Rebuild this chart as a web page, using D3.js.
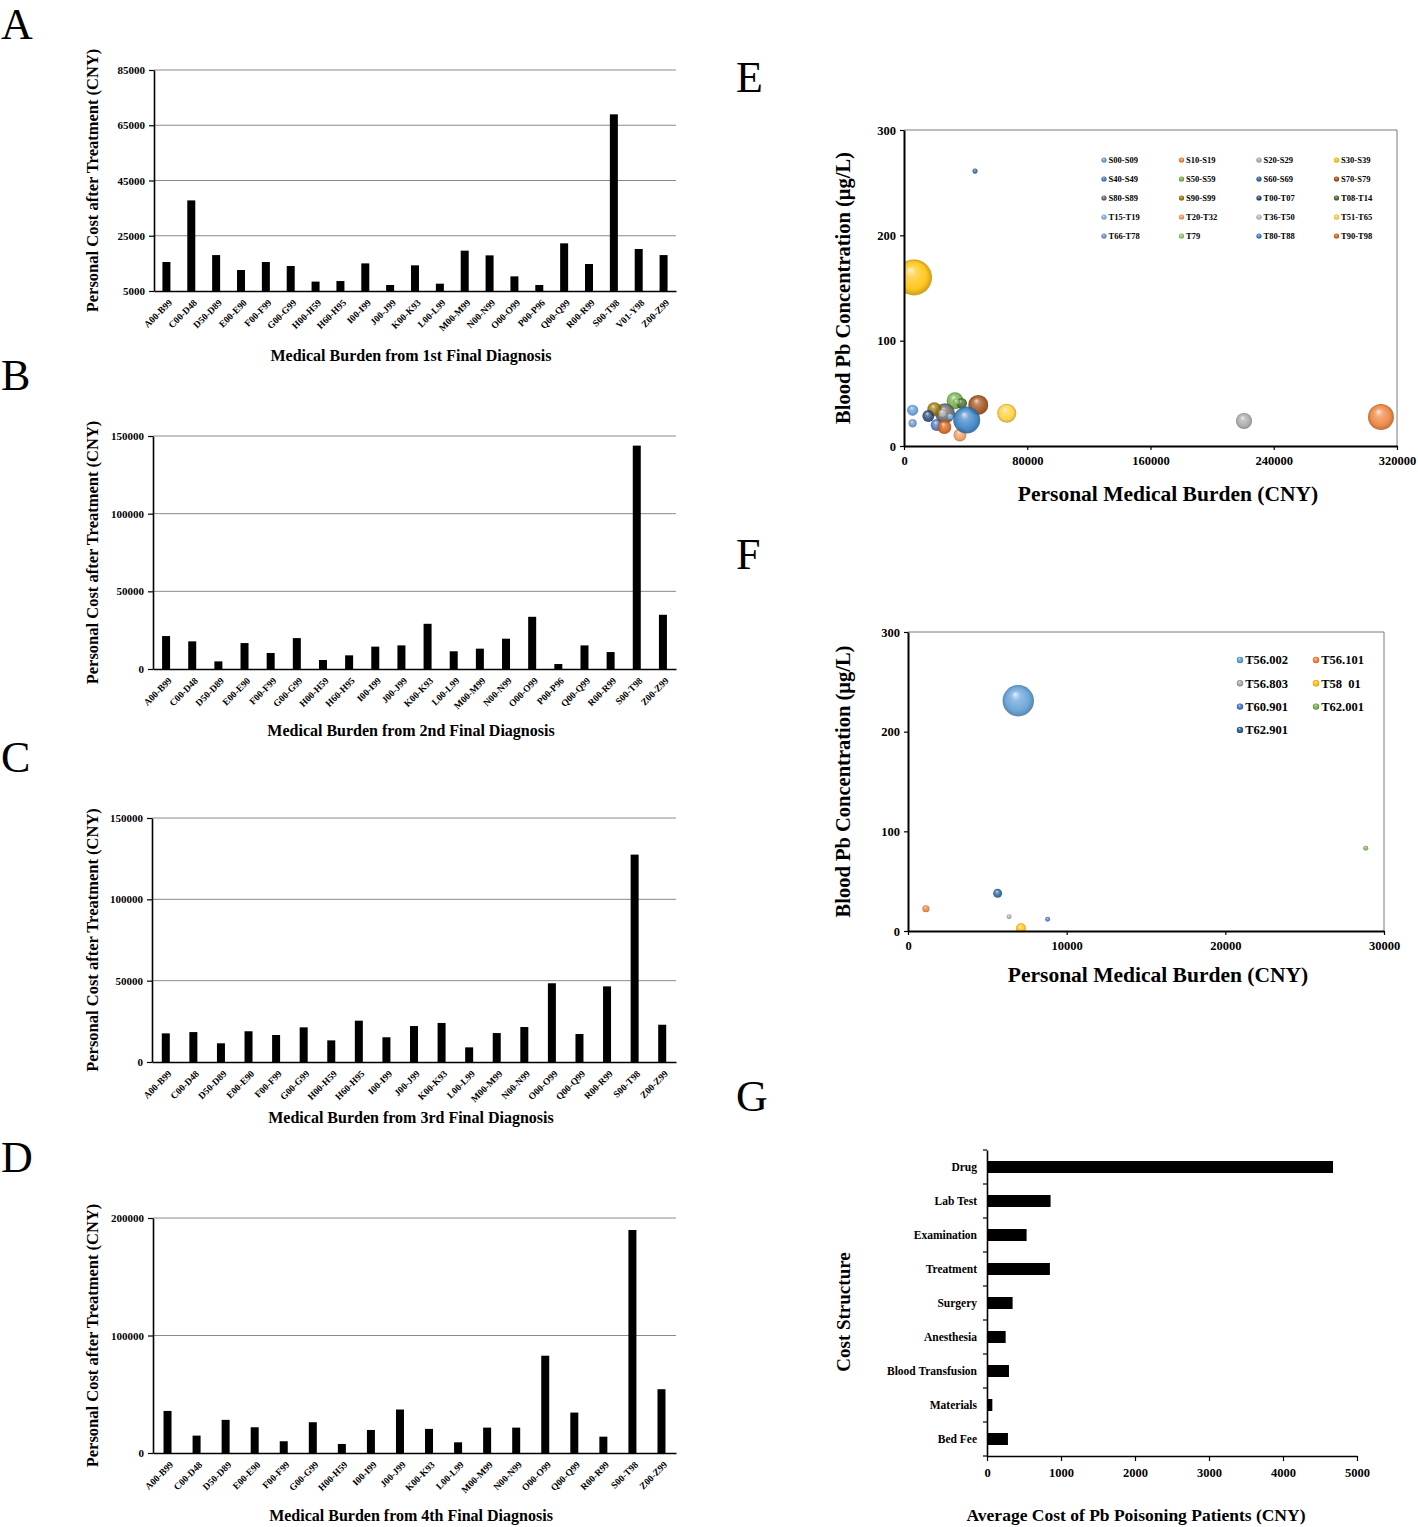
<!DOCTYPE html>
<html><head><meta charset="utf-8">
<script src="https://cdn.jsdelivr.net/npm/d3@7"></script>
<style>
body{margin:0;background:#fff}
svg{display:block}
text{font-family:"Liberation Serif","Times New Roman",serif;}
</style>
</head><body>
<svg id="chart" width="1418" height="1527"></svg>
<script>
// ---------- DATA ----------
const catsA = ["A00-B99","C00-D48","D50-D89","E00-E90","F00-F99","G00-G99","H00-H59","H60-H95","I00-I99","J00-J99","K00-K93","L00-L99","M00-M99","N00-N99","O00-O99","P00-P96","Q00-Q99","R00-R99","S00-T98","V01-Y98","Z00-Z99"];
const valsA = [15500,37800,18000,12600,15500,14050,8400,8600,15000,7170,14290,7650,19600,17900,10300,7170,22250,14770,68950,20200,18000];
const yTicksA = [5000,25000,45000,65000,85000];

const catsB = ["A00-B99","C00-D48","D50-D89","E00-E90","F00-F99","G00-G99","H00-H59","H60-H95","I00-I99","J00-J99","K00-K93","L00-L99","M00-M99","N00-N99","O00-O99","P00-P96","Q00-Q99","R00-R99","S00-T98","Z00-Z99"];
const valsB = [21200,17800,4900,16700,10300,19900,5800,8800,14400,15200,29100,11400,13100,19500,33600,3200,15200,10900,143800,34900];
const yTicksB = [0,50000,100000,150000];

const catsC = ["A00-B99","C00-D48","D50-D89","E00-E90","F00-F99","G00-G99","H00-H59","H60-H95","I00-I99","J00-J99","K00-K93","L00-L99","M00-M99","N00-N99","O00-O99","Q00-Q99","R00-R99","S00-T98","Z00-Z99"];
const valsC = [17600,18400,11500,18900,16600,21300,13300,25400,15200,22100,24000,9000,17800,21500,48400,17200,46500,127500,22900];
const yTicksC = [0,50000,100000,150000];

const catsD = ["A00-B99","C00-D48","D50-D89","E00-E90","F00-F99","G00-G99","H00-H59","I00-I99","J00-J99","K00-K93","L00-L99","M00-M99","N00-N99","O00-O99","Q00-Q99","R00-R99","S00-T98","Z00-Z99"];
const valsD = [35800,14800,28200,21900,10000,26200,7700,19600,37000,20500,9100,21600,21600,82800,34400,13900,189800,54300];
const yTicksD = [0,100000,200000];

const seriesE = ["S00-S09","S10-S19","S20-S29","S30-S39","S40-S49","S50-S59","S60-S69","S70-S79","S80-S89","S90-S99","T00-T07","T08-T14","T15-T19","T20-T32","T36-T50","T51-T65","T66-T78","T79","T80-T88","T90-T98"];
const burdenE = [5600,309600,220700,6500,21200,33100,46100,48200,26600,19700,15800,37400,30000,36300,25000,66700,5600,34000,40700,26200];
const leadE   = [34,27.5,23.7,160,20,43,261,39,31,35,28.5,40.5,28,10.5,31,31,21.5,42,24.7,18];
const sizeE   = [9.3,52,20,100,11,22,2,31,31,15,11,9,3,13,5,28,5,3,56,15];
const xTicksE = [0,80000,160000,240000,320000];
const yTicksE = [0,100,200,300];

const seriesF = ["T56.002","T56.101","T56.803","T58  01","T60.901","T62.001","T62.901"];
const burdenF = [6950,1130,6370,7120,8800,28850,5650];
const leadF   = [231,22.4,14.3,2.7,11.7,83,37.8];
const sizeF   = [100,5,2.5,10,2.5,2.5,8.2];
const xTicksF = [0,10000,20000,30000];
const yTicksF = [0,100,200,300];

const catsG = ["Drug","Lab Test","Examination","Treatment","Surgery","Anesthesia","Blood Transfusion","Materials","Bed Fee"];
const valsG = [4676,859,535,850,346,252,297,72,283];
const xTicksG = [0,1000,2000,3000,4000,5000];

// ---------- STYLE ----------
const paletteE = ["#5B9BD5","#ED7D31","#A5A5A5","#FFC000","#4472C4","#70AD47","#255E91","#9E480E","#636363","#997300","#264478","#43682B","#7CAFDD","#F1975A","#B7B7B7","#FFCD33","#698ED0","#8CC168","#327DC2","#D26012"];
const paletteF = ["#5B9BD5","#ED7D31","#A5A5A5","#FFC000","#4472C4","#70AD47","#255E91"];
const SERIF = '"Liberation Serif","Times New Roman",serif';

const svg = d3.select("#chart");
svg.append("rect").attr("width",1418).attr("height",1527).attr("fill","#fff");
const defs = svg.append("defs");

function letter(t, x, y){
  svg.append("text").attr("x",x).attr("y",y).attr("font-size",44).attr("font-family",SERIF).text(t);
}
function styleAxis(a, fs){
  a.attr("font-family",SERIF);
  a.select(".domain").attr("stroke","#000").attr("stroke-width",1.6);
  a.selectAll(".tick line").attr("stroke","#000").attr("stroke-width",1.2);
  a.selectAll(".tick text").attr("font-size",fs).attr("font-weight","bold").attr("fill","#000");
}

// ---------- BAR PANELS A-D ----------
function barPanel(c){
  const g = svg.append("g");
  const x = d3.scaleBand().domain(c.cats).range([c.left,c.right]);
  const y = d3.scaleLinear().domain(c.domain).range([c.bottom,c.top]);
  g.selectAll("line.grid").data(c.ticks.filter(t=>t!==c.domain[0])).join("line")
    .attr("x1",c.left).attr("x2",c.right).attr("y1",d=>y(d)).attr("y2",d=>y(d))
    .attr("stroke","#8a8a8a").attr("stroke-width",1);
  g.selectAll("rect.bar").data(c.cats).join("rect")
    .attr("x",d=>x(d)+x.bandwidth()/2-4).attr("width",8)
    .attr("y",(d,i)=>y(c.vals[i])).attr("height",(d,i)=>c.bottom-y(c.vals[i]))
    .attr("fill","#000");
  const ya = g.append("g").attr("transform",`translate(${c.left},0)`)
    .call(d3.axisLeft(y).tickValues(c.ticks).tickSize(5).tickSizeOuter(0).tickPadding(4).tickFormat(d3.format("d")));
  styleAxis(ya, 11);
  const xa = g.append("g").attr("transform",`translate(0,${c.bottom})`)
    .call(d3.axisBottom(x).tickSize(0).tickSizeOuter(0));
  styleAxis(xa, 9.5);
  xa.selectAll(".tick text").attr("x",0).attr("y",0).attr("dy","0.35em")
    .attr("transform","translate(4,10) rotate(-45)").attr("text-anchor","end");
  g.append("text").attr("transform",`translate(92,${(c.top+c.bottom)/2}) rotate(-90)`)
    .attr("text-anchor","middle").attr("dy","0.35em").attr("font-size",16.5).attr("font-weight","bold")
    .attr("font-family",SERIF).text("Personal Cost after Treatment (CNY)");
  g.append("text").attr("x",411).attr("y",c.titleY).attr("text-anchor","middle")
    .attr("font-size",16).attr("font-weight","bold").attr("font-family",SERIF).text(c.title);
}

barPanel({cats:catsA, vals:valsA, left:154, right:676, top:70, bottom:291, domain:[5000,85000], ticks:yTicksA, title:"Medical Burden from 1st Final Diagnosis", titleY:361});
barPanel({cats:catsB, vals:valsB, left:153, right:676, top:436, bottom:669, domain:[0,150000], ticks:yTicksB, title:"Medical Burden from 2nd Final Diagnosis", titleY:736});
barPanel({cats:catsC, vals:valsC, left:152, right:676, top:818, bottom:1062, domain:[0,150000], ticks:yTicksC, title:"Medical Burden from 3rd Final Diagnosis", titleY:1123});
barPanel({cats:catsD, vals:valsD, left:153, right:676, top:1218, bottom:1453, domain:[0,200000], ticks:yTicksD, title:"Medical Burden from 4th Final Diagnosis", titleY:1521});

letter("A",1,39); letter("B",1,390); letter("C",1,772); letter("D",1,1172);
letter("E",736,92); letter("F",736,569); letter("G",736,1111);

// ---------- BUBBLE PANELS E, F ----------
function sphereGrad(color){
  const id = "sph"+color.replace("#","");
  if (defs.select("#"+id).empty()){
    const gr = defs.append("radialGradient").attr("id",id)
      .attr("cx","50%").attr("cy","50%").attr("r","50%").attr("fx","40%").attr("fy","28%");
    gr.append("stop").attr("offset","0%").attr("stop-color",d3.interpolateRgb(color,"#fff")(0.8));
    gr.append("stop").attr("offset","30%").attr("stop-color",d3.interpolateRgb(color,"#fff")(0.25));
    gr.append("stop").attr("offset","75%").attr("stop-color",color);
    gr.append("stop").attr("offset","100%").attr("stop-color",d3.color(color).darker(0.8).formatHex());
  }
  return "url(#"+id+")";
}

function bubblePanel(c){
  const g = svg.append("g");
  const x = d3.scaleLinear().domain(c.xDomain).range([c.left,c.right]);
  const y = d3.scaleLinear().domain(c.yDomain).range([c.bottom,c.top]);
  const r = d3.scaleSqrt().domain([0,100]).range([0,c.rMax]);
  const clipId = "clip"+c.id;
  defs.append("clipPath").attr("id",clipId).append("rect")
    .attr("x",c.left).attr("y",c.top).attr("width",c.right-c.left).attr("height",c.bottom-c.top);
  g.append("path").attr("d",`M${c.left},${c.top}H${c.right}V${c.bottom}`)
    .attr("fill","none").attr("stroke","#7a7a7a").attr("stroke-width",1);
  g.append("g").attr("clip-path",`url(#${clipId})`)
    .selectAll("circle").data(c.names).join("circle")
    .attr("cx",(d,i)=>x(c.xs[i])).attr("cy",(d,i)=>y(c.ys[i])).attr("r",(d,i)=>r(c.sizes[i]))
    .attr("fill",(d,i)=>sphereGrad(c.colors[i])).attr("opacity",0.88);
  const ya = g.append("g").attr("transform",`translate(${c.left},0)`)
    .call(d3.axisLeft(y).tickValues(c.yTicks).tickSize(4).tickSizeOuter(0).tickPadding(4));
  styleAxis(ya, 12.5);
  const xa = g.append("g").attr("transform",`translate(0,${c.bottom})`)
    .call(d3.axisBottom(x).tickValues(c.xTicks).tickSize(4).tickSizeOuter(0).tickPadding(6).tickFormat(d3.format("d")));
  styleAxis(xa, 12.5);
  xa.select(".domain").attr("stroke-width",2);
  ya.select(".domain").attr("stroke-width",2);
  g.append("text").attr("transform",`translate(843,${(c.top+c.bottom)/2}) rotate(-90)`)
    .attr("text-anchor","middle").attr("dy","0.35em").attr("font-size",20.5).attr("font-weight","bold")
    .attr("font-family",SERIF).text("Blood Pb Concentration (\u03bcg/L)");
  g.append("text").attr("x",c.titleX).attr("y",c.titleY).attr("text-anchor","middle")
    .attr("font-size",21.5).attr("font-weight","bold").attr("font-family",SERIF).text("Personal Medical Burden (CNY)");
  const lg = g.append("g").selectAll("g").data(c.names).join("g")
    .attr("transform",(d,i)=>`translate(${c.legX + (i%c.legCols)*c.legDx},${c.legY + Math.floor(i/c.legCols)*c.legDy})`);
  lg.append("circle").attr("r",c.legR).attr("fill",(d,i)=>sphereGrad(c.colors[i]));
  lg.append("text").attr("x",c.legR+2).attr("dy","0.35em").attr("font-size",c.legFs).attr("font-weight","bold")
    .attr("font-family",SERIF).style("white-space","pre").text(d=>d);
}

bubblePanel({id:"E", names:seriesE, xs:burdenE, ys:leadE, sizes:sizeE, colors:paletteE,
  left:904, right:1397, top:130, bottom:446, xDomain:[0,320000], yDomain:[0,300], xTicks:xTicksE, yTicks:yTicksE,
  rMax:18, titleX:1168, titleY:501, legX:1104, legY:160, legCols:4, legDx:77.5, legDy:19, legR:2.6, legFs:8.5});

bubblePanel({id:"F", names:seriesF, xs:burdenF, ys:leadF, sizes:sizeF, colors:paletteF,
  left:908, right:1384, top:632, bottom:931, xDomain:[0,30000], yDomain:[0,300], xTicks:xTicksF, yTicks:yTicksF,
  rMax:15.7, titleX:1158, titleY:982, legX:1240, legY:660, legCols:2, legDx:76, legDy:23.3, legR:3.2, legFs:12.5});

// ---------- PANEL G ----------
(function(){
  const left=987, right=1357, top=1150, bottom=1456;
  const g = svg.append("g");
  const y = d3.scaleBand().domain(catsG).range([top,bottom]);
  const x = d3.scaleLinear().domain([0,5000]).range([left,right]);
  g.selectAll("rect").data(catsG).join("rect")
    .attr("x",left).attr("y",d=>y(d)+y.bandwidth()/2-6).attr("height",12)
    .attr("width",(d,i)=>x(valsG[i])-left).attr("fill","#000");
  const ya = g.append("g").attr("transform",`translate(${left},0)`)
    .call(d3.axisLeft(y).tickSize(0).tickSizeOuter(0).tickPadding(10));
  styleAxis(ya, 11.5);
  g.selectAll("line.bt").data(catsG.map(d=>y(d)).concat([bottom])).join("line")
    .attr("x1",left-4).attr("x2",left).attr("y1",d=>d).attr("y2",d=>d).attr("stroke","#000").attr("stroke-width",1.2);
  const xa = g.append("g").attr("transform",`translate(0,${bottom})`)
    .call(d3.axisBottom(x).tickValues(xTicksG).tickSize(5).tickSizeOuter(0).tickPadding(7).tickFormat(d3.format("d")));
  styleAxis(xa, 12.5);
  g.append("text").attr("transform",`translate(843,1312) rotate(-90)`)
    .attr("text-anchor","middle").attr("dy","0.35em").attr("font-size",19).attr("font-weight","bold")
    .attr("font-family",SERIF).text("Cost Structure");
  g.append("text").attr("x",1136).attr("y",1521).attr("text-anchor","middle")
    .attr("font-size",17.5).attr("font-weight","bold").attr("font-family",SERIF).text("Average Cost of Pb Poisoning Patients (CNY)");
})();
</script>
</body></html>
